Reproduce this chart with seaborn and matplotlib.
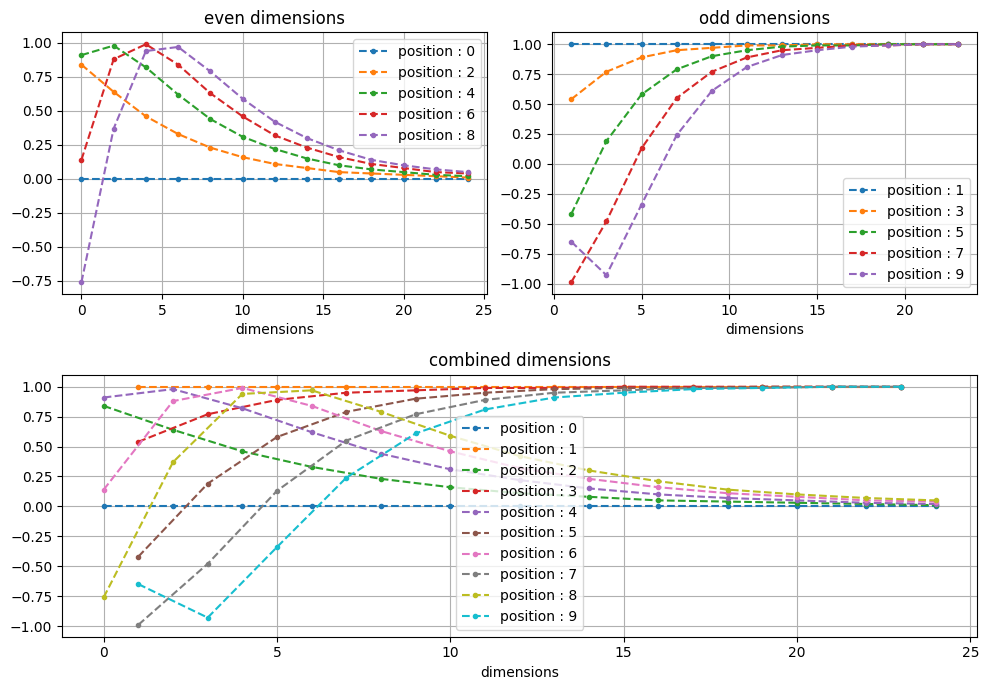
import numpy as np
import pandas as pd
from matplotlib import pyplot as plt
import seaborn as sns

even_dims = [0, 2, 4, 6, 8, 10, 12, 14, 16, 18, 20, 22, 24]
odd_dims = [1, 3, 5, 7, 9, 11, 13, 15, 17, 19, 21, 23]

# values (even dims)
even_pos0 = [0.0] * 13
even_pos2 = [0.84, 0.64, 0.46, 0.33, 0.23, 0.16, 0.11, 0.08, 0.05, 0.04, 0.03, 0.02, 0.01]
even_pos4 = [0.91, 0.98, 0.82, 0.62, 0.44, 0.31, 0.22, 0.15, 0.10, 0.07, 0.05, 0.03, 0.02]
even_pos6 = [0.14, 0.88, 0.99, 0.84, 0.63, 0.46, 0.32, 0.23, 0.16, 0.11, 0.08, 0.05, 0.04]
even_pos8 = [-0.76, 0.37, 0.94, 0.97, 0.79, 0.59, 0.42, 0.30, 0.21, 0.14, 0.10, 0.07, 0.05]

# odd dims
odd_pos1 = [1.0] * 12
odd_pos3 = [0.54, 0.77, 0.89, 0.95, 0.97, 0.99, 0.99, 1.00, 1.00, 1.00, 1.00, 1.00]
odd_pos5 = [-0.42, 0.19, 0.58, 0.79, 0.90, 0.95, 0.98, 0.99, 0.99, 1.00, 1.00, 1.00]
odd_pos7 = [-0.99, -0.48, 0.13, 0.55, 0.77, 0.89, 0.95, 0.97, 0.99, 0.99, 1.00, 1.00]
odd_pos9 = [-0.65, -0.93, -0.34, 0.24, 0.61, 0.81, 0.91, 0.95, 0.98, 0.99, 1.00, 1.00]

even_series = [(0, even_pos0), (2, even_pos2), (4, even_pos4), (6, even_pos6), (8, even_pos8)]
odd_series = [(1, odd_pos1), (3, odd_pos3), (5, odd_pos5), (7, odd_pos7), (9, odd_pos9)]

fig = plt.figure(figsize=(10, 7), dpi=100)
gs = fig.add_gridspec(2, 2)
ax1 = fig.add_subplot(gs[0, 0])
ax2 = fig.add_subplot(gs[0, 1])
ax3 = fig.add_subplot(gs[1, :])


def draw(ax, x, vals, c, lab):
    sns.lineplot(x=x, y=vals, ax=ax, color=c, label=lab, marker='.',
                 markersize=6, markeredgewidth=1, markeredgecolor=c,
                 linestyle='--')


for i, (p, vals) in enumerate(even_series):
    draw(ax1, even_dims, vals, f'C{i}', f'position : {p}')
ax1.set_title('even dimensions')
ax1.set_xlabel('dimensions')
ax1.grid(True)
ax1.legend(loc='upper right')

for i, (p, vals) in enumerate(odd_series):
    draw(ax2, odd_dims, vals, f'C{i}', f'position : {p}')
ax2.set_title('odd dimensions')
ax2.set_xlabel('dimensions')
ax2.grid(True)
ax2.legend(loc='lower right')

# combined: interleave even and odd
for k in range(10):
    if k % 2 == 0:
        x, vals = even_dims, even_series[k // 2][1]
    else:
        x, vals = odd_dims, odd_series[k // 2][1]
    draw(ax3, x, vals, f'C{k}', f'position : {k}')
ax3.set_title('combined dimensions')
ax3.set_xlabel('dimensions')
ax3.grid(True)
ax3.legend(loc='lower center')

plt.tight_layout()
plt.savefig('out.png', dpi=100, bbox_inches='tight')
